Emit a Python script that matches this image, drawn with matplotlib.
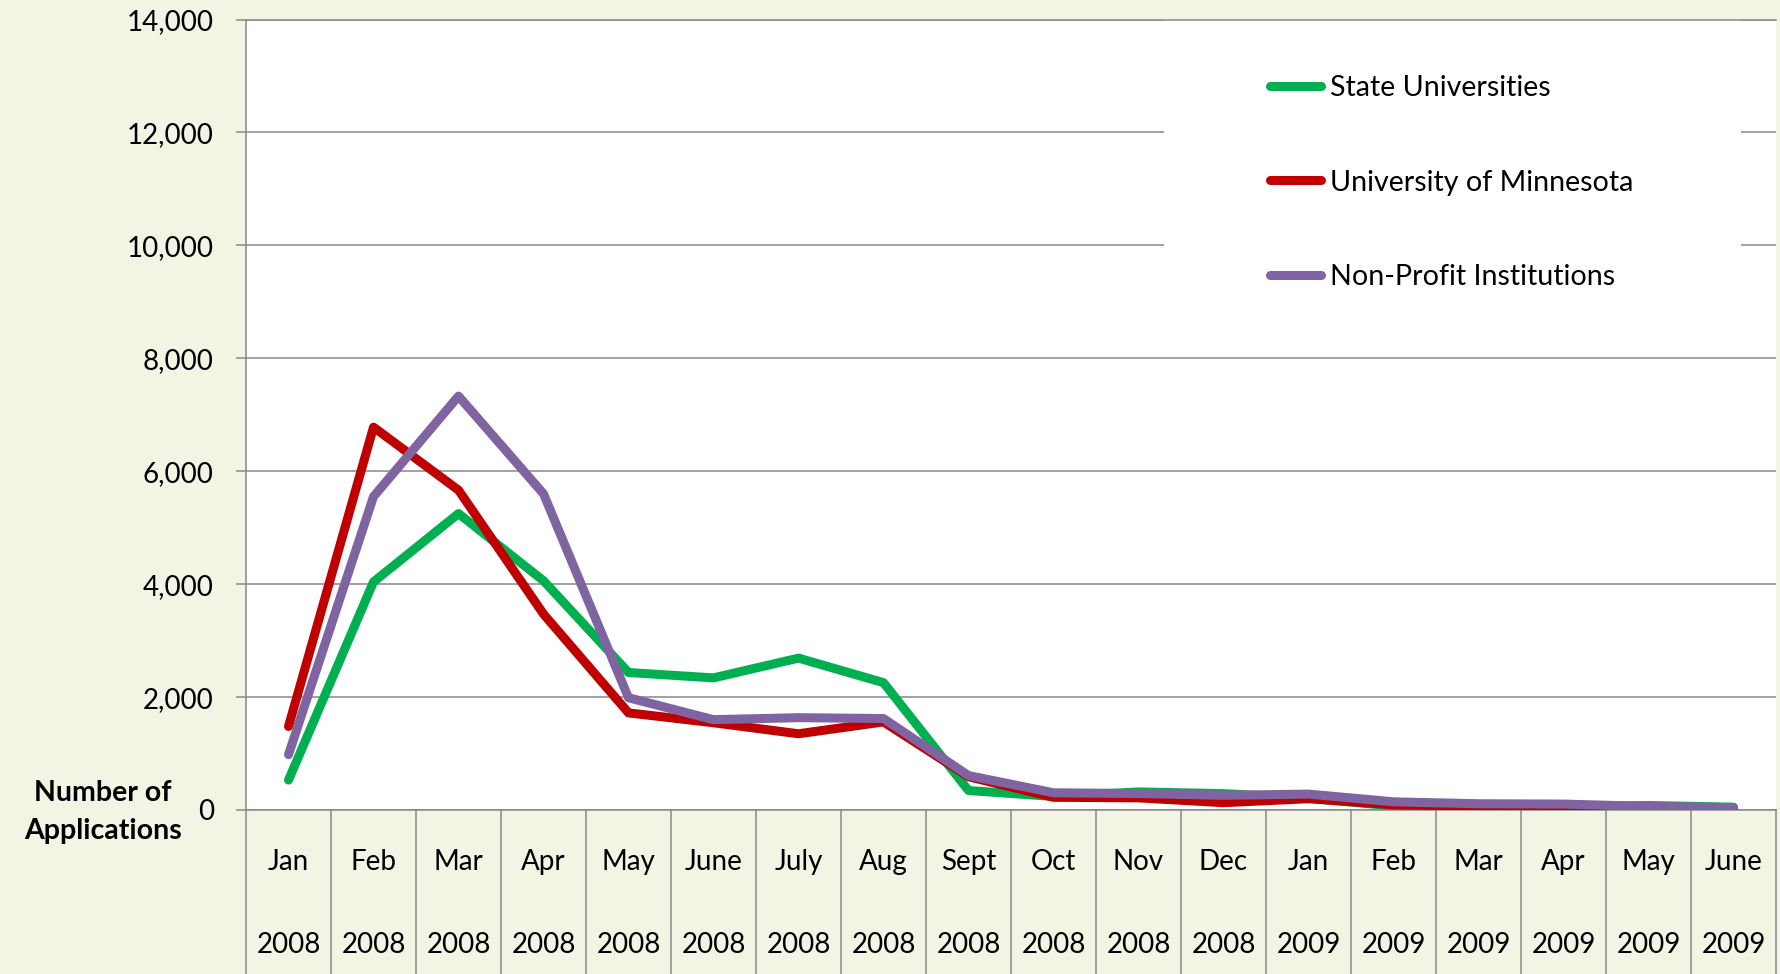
"""Applications per month by institution type, Jan 2008 - June 2009."""

import matplotlib

matplotlib.use("Agg")
import matplotlib.pyplot as plt  # noqa: E402
from matplotlib.patches import Rectangle  # noqa: E402

plt.rcParams["font.family"] = ["Lato", "DejaVu Sans"]

MONTHS = ["Jan", "Feb", "Mar", "Apr", "May", "June", "July", "Aug", "Sept",
          "Oct", "Nov", "Dec", "Jan", "Feb", "Mar", "Apr", "May", "June"]
YEARS = ["2008"] * 12 + ["2009"] * 6

STATE_UNIV = [530, 4040, 5250, 4060, 2435, 2340, 2690, 2255, 345,
              240, 320, 290, 210, 70, 45, 60, 80, 50]
UMN = [1480, 6780, 5665, 3470, 1720, 1545, 1350, 1560, 590,
       225, 215, 130, 200, 92, 70, 50, 30, 20]
NON_PROFIT = [980, 5550, 7330, 5600, 1988, 1600, 1635, 1620, 610,
              305, 292, 260, 282, 145, 111, 105, 64, 41]

SERIES = [
    ("State Universities", STATE_UNIV, "#00B050"),
    ("University of Minnesota", UMN, "#C00000"),
    ("Non-Profit Institutions", NON_PROFIT, "#8064A2"),
]

BG = "#F3F4E4"
GRAY = "#888888"
FS = 20

fig = plt.figure(figsize=(17.81, 9.74), dpi=100, facecolor=BG)
ax = fig.add_axes([246 / 1781, 1 - 810 / 974, 1530 / 1781, 790.5 / 974])
ax.set_facecolor("white")

x = list(range(len(MONTHS)))
for label, vals, color in SERIES:
    ax.plot(x, vals, color=color, lw=6.5, label=label,
            solid_capstyle="round", solid_joinstyle="round", zorder=3)

ax.set_xlim(-0.5, len(MONTHS) - 0.5)
ax.set_ylim(0, 14000)
ax.set_yticks(range(0, 14001, 2000))
ax.set_yticklabels([f"{v:,}" for v in range(0, 14001, 2000)], fontsize=FS)
ax.tick_params(axis="y", direction="out", length=7.2, width=1.1, color=GRAY, pad=16)
ax.set_xticks([])
ax.grid(axis="y", color=GRAY, lw=1.1)
ax.set_axisbelow(True)
for side in ("left", "bottom", "top"):
    ax.spines[side].set_color(GRAY)
    ax.spines[side].set_linewidth(1.1)
ax.spines["right"].set_visible(False)

# white box behind the legend hides the gridlines there
ax.add_patch(Rectangle((0.6, 0.62), 0.377, 0.38, transform=ax.transAxes,
                       facecolor="white", edgecolor="none", zorder=1))
ax.legend(loc="upper left", bbox_to_anchor=(0.669, 0.93), frameon=False,
          fontsize=20.6, handlelength=1.8, handletextpad=0.3, labelspacing=2.4,
          borderpad=0, borderaxespad=0)

# two-level category axis
tr = ax.get_xaxis_transform()
depth = (974 - 810) / 790.5
for k in range(len(MONTHS) + 1):
    ax.plot([k - 0.5, k - 0.5], [0, -depth], transform=tr, color=GRAY,
            lw=1.1, clip_on=False)
for i, (m, yr) in enumerate(zip(MONTHS, YEARS)):
    ax.text(i, -0.0658, m, transform=tr, ha="center", va="center", fontsize=FS)
    ax.text(i, -0.1708, yr, transform=tr, ha="center", va="center", fontsize=FS)

fig.text(103 / 1781, 1 - 812 / 974, "Number of\nApplications", ha="center",
         va="center", fontsize=20.5, fontweight="bold", linespacing=1.6)

fig.savefig("out.png", dpi=100, facecolor=BG)
